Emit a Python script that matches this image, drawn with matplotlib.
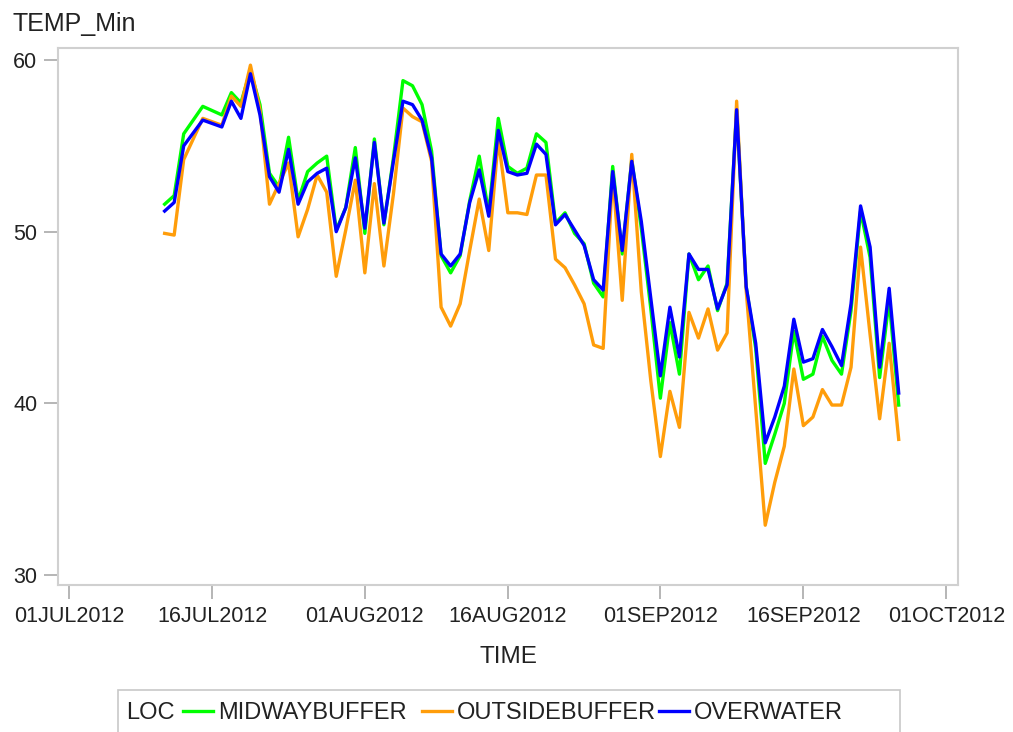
import datetime as dt
import matplotlib
matplotlib.use("Agg")
import matplotlib.pyplot as plt
import matplotlib.dates as mdates
from matplotlib.patches import Rectangle

# ---- data ----
jul_days = [11, 12, 13, 15, 17, 18, 19, 20, 21, 22, 23, 24, 25, 26, 27, 28, 29, 30, 31]
aug_days = [1, 2, 3, 4, 5, 6, 7, 8, 9, 10, 11, 12, 13, 14, 15, 16, 17, 18, 19, 20,
            21, 22, 23, 24, 25, 26, 27, 28, 29, 30, 31]
sep_days = [1, 2, 3, 4, 5, 6, 7, 8, 9, 10, 11, 12, 13, 14, 15, 16, 17, 18, 19, 20,
            21, 22, 23, 24, 25, 26]

midwaybuffer = [51.6, 52.1, 55.7, 57.3, 56.8, 58.1, 57.5, 59.4, 57.4, 53.4, 52.6, 55.5, 51.8, 53.5, 54.0, 54.4, 50.1, 51.4, 54.9,
                49.9, 55.4, 50.4, 54.3, 58.8, 58.5, 57.4, 54.7, 48.6, 47.6, 48.6, 51.8, 54.4, 51.1, 56.6, 53.8, 53.4, 53.7, 55.7, 55.2,
                50.5, 51.1, 49.9, 49.3, 47.0, 46.2, 53.8, 48.7, 54.2, 50.2, 45.5,
                40.3, 44.7, 41.7, 48.7, 47.2, 48.0, 45.4, 47.0, 57.1, 46.8, 43.2, 36.5, 38.2, 40.0, 44.2, 41.4, 41.7, 43.9, 42.5,
                41.7, 45.4, 51.2, 48.5, 41.5, 46.0, 39.9]
outsidebuffer = [49.9, 49.8, 54.2, 56.6, 56.2, 57.9, 57.3, 59.7, 57.1, 51.6, 52.8, 54.0, 49.7, 51.3, 53.3, 52.3, 47.4, 50.1, 53.0,
                 47.6, 52.8, 48.0, 52.2, 57.2, 56.7, 56.4, 54.1, 45.6, 44.5, 45.8, 48.9, 51.9, 48.9, 55.4, 51.1, 51.1, 51.0, 53.3, 53.3,
                 48.4, 47.9, 46.9, 45.8, 43.4, 43.2, 53.4, 46.0, 54.5, 46.5, 41.3,
                 36.9, 40.7, 38.6, 45.3, 43.8, 45.5, 43.1, 44.1, 57.6, 46.6, 39.7, 32.9, 35.4, 37.5, 42.0, 38.7, 39.2, 40.8, 39.9,
                 39.9, 42.1, 49.1, 44.0, 39.1, 43.5, 37.9]
overwater = [51.2, 51.7, 55.0, 56.5, 56.1, 57.6, 56.6, 59.2, 56.8, 53.2, 52.3, 54.8, 51.6, 52.9, 53.4, 53.7, 50.0, 51.4, 54.3,
             50.2, 55.2, 50.5, 54.1, 57.6, 57.4, 56.5, 54.3, 48.7, 48.0, 48.7, 51.7, 53.6, 50.9, 55.9, 53.5, 53.3, 53.4, 55.1, 54.5,
             50.4, 51.0, 50.1, 49.2, 47.2, 46.6, 53.5, 48.9, 54.1, 50.6, 46.1,
             41.6, 45.6, 42.7, 48.7, 47.8, 47.8, 45.5, 46.9, 57.1, 46.8, 43.5, 37.7, 39.2, 41.0, 44.9, 42.4, 42.6, 44.3, 43.3,
             42.2, 45.8, 51.5, 49.1, 42.1, 46.7, 40.6]

series_names = ["MIDWAYBUFFER", "OUTSIDEBUFFER", "OVERWATER"]
series_colors = ["#00ff00", "#ff9d0a", "#0000ff"]
tick_dates = ["01JUL2012", "16JUL2012", "01AUG2012", "16AUG2012", "01SEP2012", "16SEP2012", "01OCT2012"]
y_ticks = [30, 40, 50, 60]

dates = ([dt.date(2012, 7, d) for d in jul_days] + [dt.date(2012, 8, d) for d in aug_days]
         + [dt.date(2012, 9, d) for d in sep_days])

# ---- figure ----
W, H = 1013, 732
plt.rcParams['font.family'] = ['Liberation Sans', 'DejaVu Sans']
fig = plt.figure(figsize=(W / 100, H / 100), dpi=100)
L, R, T, B = 58, 958, 48, 585
ax = fig.add_axes([L / W, 1 - B / H, (R - L) / W, (B - T) / H])

lines = []
for vals, name, col in zip([midwaybuffer, outsidebuffer, overwater], series_names, series_colors):
    ln, = ax.plot(dates, vals, color=col, lw=2.4, label=name)
    lines.append(ln)

d0 = mdates.date2num(dt.date(2012, 7, 1))
px_day = 143 / 15.0
ax.set_xlim(d0 + (L - 69.3) / px_day, d0 + (R - 69.3) / px_day)
ax.set_ylim(30 - 10 / 17.17, 60 + 12 / 17.17)

tick_pos = [dt.datetime.strptime(s, "%d%b%Y").date() for s in tick_dates]
ax.set_xticks(tick_pos)
ax.set_xticklabels(tick_dates)
ax.set_yticks(y_ticks)

for sp in ax.spines.values():
    sp.set_color('#d0d0d0')
    sp.set_linewidth(1.5)

txt = '#222222'
ax.tick_params(axis='both', which='major', length=10, width=1.3, color='#b0b0b0',
               labelsize=15.5, labelcolor=txt, direction='out')
ax.tick_params(axis='x', pad=5)
ax.tick_params(axis='y', pad=5)

ax.set_xlabel("TIME", fontsize=17.5, color=txt, labelpad=14)
fig.text(12 / W, 1 - 31 / H, "TEMP_Min", fontsize=18, color=txt, ha='left', va='baseline')

# legend box with "LOC" title at left
fig.patches.append(Rectangle((118 / W, 1 - 745 / H), (900 - 118) / W, (745 - 690) / H,
                             transform=fig.transFigure, fill=False, edgecolor='#c8c8c8', lw=1.2))
fig.text(126 / W, 1 - 713 / H, "LOC", fontsize=17, color=txt, ha='left', va='center')
entry_x = [183, 422, 659]
for ln, ex in zip(lines, entry_x):
    leg = fig.legend([ln], [ln.get_label()], loc='center left', bbox_to_anchor=(ex / W, 1 - 713 / H),
                     frameon=False, fontsize=17, handlelength=1.25, handletextpad=0.22,
                     borderpad=0, borderaxespad=0, labelcolor=txt)

fig.savefig("out.png", dpi=100)
